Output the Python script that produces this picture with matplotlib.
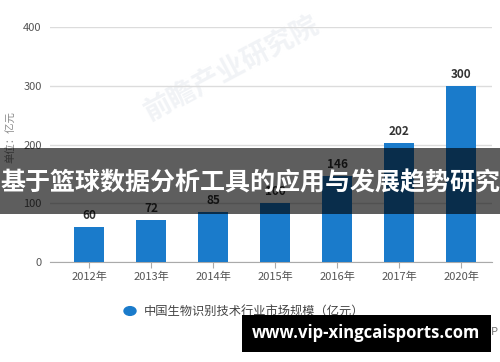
import matplotlib.pyplot as plt
from matplotlib.patches import Rectangle, Circle

plt.rcParams['font.family'] = ['Noto Sans CJK SC', 'DejaVu Sans']

years = ["2012年", "2013年", "2014年", "2015年", "2016年", "2017年", "2020年"]
market_size = [60, 72, 85, 100, 146, 202, 300]
y_ticks = [0, 100, 200, 300, 400]

bar_color = "#1a7bcb"
text_gray = "#555555"

fig = plt.figure(figsize=(5, 3.62), dpi=100)
ax = fig.add_axes([0.1, 0.276, 0.884, 0.649])

# faint watermark behind the bars
ax.text(2.3, 330, "前瞻产业研究院", rotation=28, fontsize=20, color="#f1f3f6",
        fontweight="bold", ha="center", va="center", zorder=1)

x = list(range(len(years)))
ax.bar(x, market_size, width=0.47, color=bar_color, zorder=3)
for xi, v in zip(x, market_size):
    ax.text(xi, v + 9, str(v), ha="center", va="bottom", fontsize=8.5,
            fontweight="bold", color="#333333", zorder=4)

ax.set_xlim(-0.63, 6.5)
ax.set_ylim(0, 400)
ax.set_yticks(y_ticks)
ax.set_yticklabels([str(t) for t in y_ticks], fontsize=8, color=text_gray)
ax.set_xticks(x)
ax.set_xticklabels(years, fontsize=8, color=text_gray)
ax.grid(axis="y", color="#dcdcdc", linewidth=1, zorder=0)
for s in ["left", "right", "top"]:
    ax.spines[s].set_visible(False)
ax.spines["bottom"].set_color("#aaaaaa")
ax.tick_params(axis="y", length=0, pad=6)
ax.tick_params(axis="x", length=4, color="#aaaaaa", pad=3)

fig.text(0.022, 0.62, "单位：亿元", rotation=90, ha="center", va="center",
         fontsize=7.5, color="#888888")

# legend
fig.patches.append(Circle((130 / 500, 1 - 311 / 362), 0.012, transform=fig.transFigure,
                          color=bar_color, figure=fig))
fig.text(144 / 500, 1 - 312 / 362, "中国生物识别技术行业市场规模（亿元）",
         fontsize=8.8, color="#444444", ha="left", va="center")

fig.text(498 / 500, 1 - 331 / 362, "@前瞻经济学人APP", fontsize=8,
         color="#777777", ha="right", va="center")

# overlay band with title
fig.patches.append(Rectangle((0, 1 - 214 / 362), 1, 66 / 362, transform=fig.transFigure,
                             facecolor="black", edgecolor="none", linewidth=0,
                             alpha=0.63, zorder=10, figure=fig))
fig.text(0.5, 1 - 183 / 362, "基于篮球数据分析工具的应用与发展趋势研究",
         fontsize=18, fontweight="bold", color="white", ha="center", va="center",
         zorder=11)

# bottom url box
fig.patches.append(Rectangle((242 / 500, 1 - 352 / 362), 249 / 500, 37 / 362,
                             transform=fig.transFigure, facecolor="black",
                             edgecolor="none", linewidth=0, zorder=10, figure=fig))
fig.text(366 / 500, 1 - 333 / 362, "www.vip-xingcaisports.com", fontsize=12,
         fontweight="bold", color="white", ha="center", va="center", zorder=11,
         family=["Open Sans", "DejaVu Sans"])

fig.savefig("out.png", dpi=100)
